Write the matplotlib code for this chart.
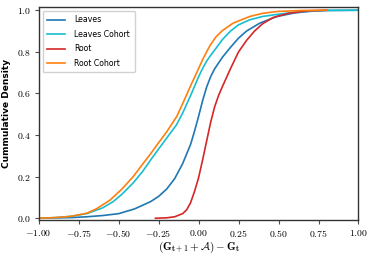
import numpy as np
import matplotlib
matplotlib.use("Agg")
import matplotlib.pyplot as plt
from matplotlib.ticker import FuncFormatter

plt.rcParams['mathtext.fontset'] = 'cm'

leaves_x = [-1.0, -0.8, -0.7, -0.6, -0.5, -0.4, -0.3, -0.25, -0.2, -0.15, -0.1,
            -0.05, -0.025, 0.0, 0.025, 0.05, 0.075, 0.1, 0.15, 0.2, 0.25, 0.3,
            0.383, 0.49, 0.6, 0.7, 0.8, 1.0]
leaves_y = [0.0, 0.003, 0.007, 0.013, 0.022, 0.045, 0.08, 0.105, 0.14, 0.19, 0.262,
            0.355, 0.42, 0.49, 0.565, 0.63, 0.68, 0.718, 0.775, 0.822, 0.866, 0.9,
            0.938, 0.97, 0.987, 0.995, 0.999, 1.0]

leaves_cohort_x = [-1.0, -0.9, -0.8, -0.7, -0.6, -0.534, -0.48, -0.409, -0.35, -0.3,
                   -0.2625, -0.2, -0.1375, -0.1, -0.05, -0.025, 0.0, 0.025, 0.05,
                   0.075, 0.102, 0.15, 0.2, 0.25, 0.32, 0.4, 0.49, 0.6, 0.7, 0.8, 1.0]
leaves_cohort_y = [0.0, 0.003, 0.009, 0.022, 0.05, 0.08, 0.115, 0.17, 0.225, 0.28,
                   0.32, 0.385, 0.45, 0.505, 0.59, 0.635, 0.68, 0.72, 0.755,
                   0.783, 0.81, 0.86, 0.9, 0.93, 0.954, 0.97, 0.98, 0.99, 0.996, 0.999, 1.0]

root_x = [-0.27, -0.2, -0.15, -0.1, -0.075, -0.05, -0.025, 0.0, 0.025, 0.05, 0.075,
          0.1, 0.125, 0.15, 0.2, 0.25, 0.3, 0.35, 0.4, 0.466, 0.56, 0.675, 0.8]
root_y = [0.0, 0.002, 0.007, 0.022, 0.04, 0.075, 0.13, 0.195, 0.28, 0.37, 0.46,
          0.535, 0.59, 0.635, 0.72, 0.8, 0.855, 0.9, 0.935, 0.965, 0.985, 0.997, 1.0]

root_cohort_x = [-1.0, -0.9, -0.8, -0.7, -0.64, -0.554, -0.48, -0.409, -0.35, -0.3,
                 -0.2625, -0.2, -0.1375, -0.1, -0.054, 0.0, 0.025, 0.05, 0.075, 0.11,
                 0.15, 0.216, 0.32, 0.4, 0.49, 0.65, 0.8]
root_cohort_y = [0.0, 0.003, 0.009, 0.024, 0.045, 0.087, 0.14, 0.2, 0.26, 0.31,
                 0.35, 0.415, 0.488, 0.55, 0.63, 0.72, 0.762, 0.8, 0.835, 0.873,
                 0.903, 0.938, 0.97, 0.985, 0.994, 0.999, 1.0]

fig = plt.figure(figsize=(3.74, 2.56), dpi=100)
ax = fig.add_axes([0.1035, 0.141, 0.855, 0.832])

ax.plot(leaves_x, leaves_y, color='#1f77b4', lw=1.2, label='Leaves')
ax.plot(leaves_cohort_x, leaves_cohort_y, color='#17becf', lw=1.2, label='Leaves Cohort')
ax.plot(root_x, root_y, color='#d62728', lw=1.2, label='Root')
ax.plot(root_cohort_x, root_cohort_y, color='#ff7f0e', lw=1.2, label='Root Cohort')

ax.set_xlim(-1, 1)
ax.set_ylim(-0.008, 1.016)
ax.set_xticks(np.arange(-1, 1.01, 0.25))
ax.set_yticks(np.arange(0, 1.01, 0.2))
ax.xaxis.set_major_formatter(FuncFormatter(lambda v, p: r'$%.2f$' % v))
ax.yaxis.set_major_formatter(FuncFormatter(lambda v, p: r'$%.1f$' % v))
ax.tick_params(labelsize=7, length=3, width=0.8, color='0.3', pad=2.5)

for s in ax.spines.values():
    s.set_color('0.2')
    s.set_linewidth(1.0)

ax.set_xlabel(r'$(\mathbf{G}_{\mathbf{t+1}} + \mathcal{A}) - \mathbf{G}_{\mathbf{t}}$',
              fontsize=8, labelpad=1)
ax.set_ylabel('Cummulative Density', fontsize=6.5, fontweight='bold', labelpad=4)

ax.legend(loc='upper left', fontsize=5.6, handlelength=2.3, handletextpad=1.2,
          borderpad=0.6, labelspacing=0.7, framealpha=0.9, edgecolor='0.8')

fig.savefig('out.png', dpi=100)
